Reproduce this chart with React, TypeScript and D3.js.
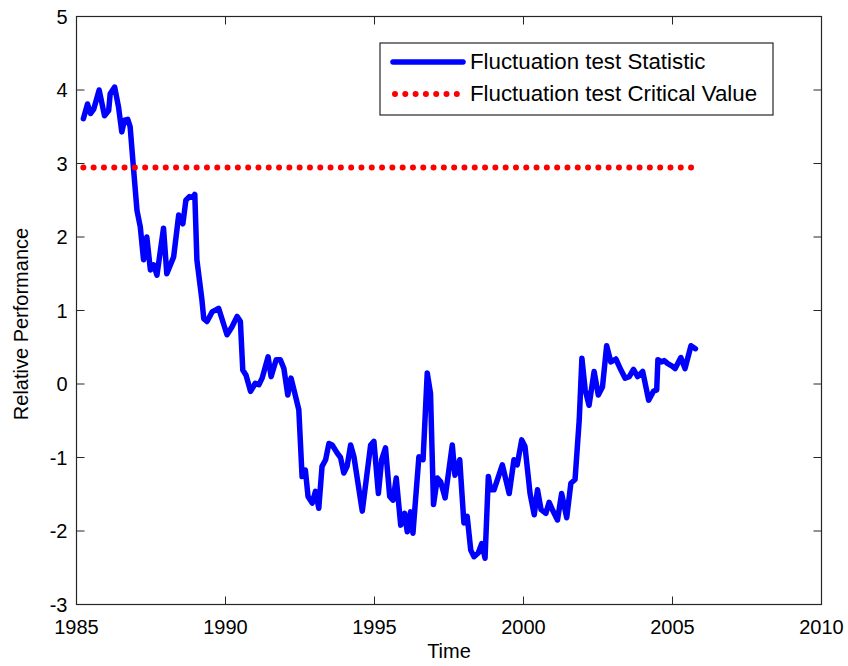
import React from "react";
import * as d3 from "d3";

const times: number[] = [
  1985.23, 1985.37, 1985.47, 1985.58, 1985.76, 1985.94, 1986.08, 1986.13, 1986.28, 1986.41,
  1986.52, 1986.61, 1986.72, 1986.80, 1986.91, 1987.03, 1987.14, 1987.25, 1987.36, 1987.48,
  1987.59, 1987.70, 1987.92, 1988.03, 1988.26, 1988.43, 1988.57, 1988.67, 1988.79, 1988.90,
  1988.97, 1989.04, 1989.21, 1989.27, 1989.38, 1989.55, 1989.77, 1990.05, 1990.22, 1990.39,
  1990.50, 1990.58, 1990.69, 1990.84, 1991.00, 1991.12, 1991.23, 1991.43, 1991.53, 1991.70,
  1991.84, 1991.96, 1992.09, 1992.20, 1992.31, 1992.46, 1992.57, 1992.68, 1992.77, 1992.91,
  1993.02, 1993.13, 1993.24, 1993.36, 1993.47, 1993.58, 1993.75, 1993.86, 1993.97, 1994.08,
  1994.20, 1994.31, 1994.59, 1994.87, 1994.98, 1995.13, 1995.24, 1995.37, 1995.51, 1995.62,
  1995.73, 1995.88, 1996.01, 1996.10, 1996.21, 1996.29, 1996.49, 1996.63, 1996.77, 1996.88,
  1996.98, 1997.11, 1997.22, 1997.37, 1997.61, 1997.70, 1997.86, 1998.00, 1998.11, 1998.23,
  1998.34, 1998.48, 1998.60, 1998.71, 1998.82, 1998.90, 1999.01, 1999.29, 1999.52, 1999.68,
  1999.79, 1999.94, 2000.05, 2000.22, 2000.36, 2000.47, 2000.59, 2000.75, 2000.86, 2000.97,
  2001.14, 2001.28, 2001.45, 2001.59, 2001.73, 2001.87, 2001.96, 2002.07, 2002.20, 2002.37,
  2002.51, 2002.65, 2002.79, 2002.93, 2003.10, 2003.27, 2003.41, 2003.55, 2003.69, 2003.83,
  2004.00, 2004.20, 2004.36, 2004.47, 2004.51, 2004.64, 2004.72, 2004.83, 2005.00, 2005.09,
  2005.28, 2005.42, 2005.62, 2005.77,
];

const statistic: number[] = [
  3.61, 3.81, 3.68, 3.74, 4.00, 3.65, 3.72, 3.95, 4.04, 3.77,
  3.43, 3.59, 3.60, 3.50, 2.95, 2.36, 2.14, 1.69, 2.00, 1.55,
  1.62, 1.48, 2.12, 1.50, 1.73, 2.30, 2.18, 2.50, 2.55, 2.54,
  2.58, 1.69, 1.14, 0.89, 0.85, 0.98, 1.03, 0.67, 0.78, 0.92,
  0.85, 0.19, 0.12, -0.10, 0.01, -0.01, 0.08, 0.37, 0.10, 0.33,
  0.33, 0.21, -0.15, 0.08, -0.10, -0.35, -1.26, -1.17, -1.53, -1.62,
  -1.46, -1.69, -1.12, -1.03, -0.81, -0.83, -0.94, -1.00, -1.21, -1.12,
  -0.83, -0.99, -1.73, -0.83, -0.78, -1.49, -1.03, -0.87, -1.53, -1.58,
  -1.28, -1.92, -1.76, -2.01, -1.74, -2.03, -0.99, -1.03, 0.15, -0.13,
  -1.64, -1.28, -1.33, -1.55, -0.83, -1.24, -1.03, -1.89, -1.80, -2.26,
  -2.35, -2.30, -2.17, -2.37, -1.26, -1.44, -1.44, -1.10, -1.49, -1.03,
  -1.10, -0.76, -0.85, -1.49, -1.78, -1.44, -1.71, -1.76, -1.61, -1.71,
  -1.85, -1.49, -1.82, -1.35, -1.30, -0.49, 0.35, -0.08, -0.29, 0.17,
  -0.15, -0.04, 0.52, 0.30, 0.34, 0.19, 0.08, 0.10, 0.20, 0.10,
  0.17, -0.22, -0.10, -0.08, 0.33, 0.30, 0.32, 0.28, 0.24, 0.21,
  0.36, 0.21, 0.52, 0.48,
];

const criticalValue = 2.945;
const xTicks: number[] = [1985, 1990, 1995, 2000, 2005, 2010];
const yTicks: number[] = [-3, -2, -1, 0, 1, 2, 3, 4, 5];
const legendLabels: string[] = ["Fluctuation test Statistic", "Fluctuation test Critical Value"];

const W = 848;
const H = 666;
const L = 76.5;
const R = 821.5;
const T = 16.5;
const B = 604.5;
const FONT = "Arial, 'Liberation Sans', Helvetica, sans-serif";

export default function App() {
  const x = d3.scaleLinear().domain([1985, 2010]).range([L, R]);
  const y = d3.scaleLinear().domain([-3, 5]).range([B, T]);
  const pts = times.map((t, i) => [t, statistic[i]] as [number, number]);
  const line = d3
    .line<[number, number]>()
    .x((d) => x(d[0]))
    .y((d) => y(d[1]));
  const t0 = times[0];
  const t1 = times[times.length - 1];
  const tick = 8;

  return (
    <svg
      width={W}
      height={H}
      style={{ position: "absolute", left: 0, top: 0, background: "#fff" }}
      fontFamily={FONT}
    >
      <rect x={0} y={0} width={W} height={H} fill="#fff" />
      <path
        d={line(pts) || ""}
        fill="none"
        stroke="#0000ff"
        strokeWidth={5.5}
        strokeLinejoin="round"
        strokeLinecap="round"
      />
      <line
        x1={x(t0)}
        x2={x(t1)}
        y1={y(criticalValue)}
        y2={y(criticalValue)}
        stroke="#ff0000"
        strokeWidth={6}
        strokeLinecap="round"
        strokeDasharray="0 10.3"
      />
      <rect x={L} y={T} width={R - L} height={B - T} fill="none" stroke="#262626" strokeWidth={1.2} />
      {xTicks.map((t) => (
        <g key={"x" + t}>
          <line x1={x(t)} x2={x(t)} y1={B} y2={B - tick} stroke="#262626" strokeWidth={1} />
          <line x1={x(t)} x2={x(t)} y1={T} y2={T + tick} stroke="#262626" strokeWidth={1} />
          <text x={x(t)} y={B + 29} textAnchor="middle" fontSize={20} fill="#000">
            {t}
          </text>
        </g>
      ))}
      {yTicks.map((v) => (
        <g key={"y" + v}>
          <line x1={L} x2={L + tick} y1={y(v)} y2={y(v)} stroke="#262626" strokeWidth={1} />
          <line x1={R} x2={R - tick} y1={y(v)} y2={y(v)} stroke="#262626" strokeWidth={1} />
          <text x={L - 9} y={y(v) + 7} textAnchor="end" fontSize={20} fill="#000">
            {v}
          </text>
        </g>
      ))}
      <text x={(L + R) / 2} y={658} textAnchor="middle" fontSize={20} fill="#000">
        Time
      </text>
      <text
        transform={`translate(28, 324) rotate(-90)`}
        textAnchor="middle"
        fontSize={20}
        fill="#000"
      >
        Relative Performance
      </text>
      <rect x={380} y={43} width={393} height={72} fill="#fff" stroke="#262626" strokeWidth={1.2} />
      <line x1={393} x2={463} y1={62} y2={62} stroke="#0000ff" strokeWidth={5.5} strokeLinecap="round" />
      <line
        x1={395}
        x2={458}
        y1={94}
        y2={94}
        stroke="#ff0000"
        strokeWidth={6}
        strokeLinecap="round"
        strokeDasharray="0 10.3"
      />
      <text x={470} y={69} fontSize={22.3} fill="#000">
        {legendLabels[0]}
      </text>
      <text x={470} y={101} fontSize={22.3} fill="#000">
        {legendLabels[1]}
      </text>
    </svg>
  );
}
